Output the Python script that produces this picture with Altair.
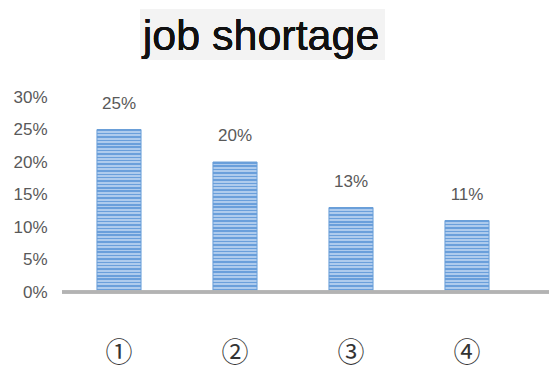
import altair as alt
import pandas as pd

categories = ["①", "②", "③", "④"]
values = [0.25, 0.20, 0.13, 0.11]
labels = ["25%", "20%", "13%", "11%"]
y_ticks = [0, 0.05, 0.10, 0.15, 0.20, 0.25, 0.30]

df = pd.DataFrame({"cat": categories, "val": values, "lab": labels})

NARROW = "Liberation Sans Narrow, Arial Narrow, Liberation Sans"

x = alt.X("cat:N", sort=categories, title=None,
          scale=alt.Scale(paddingInner=0.62, paddingOuter=0.31),
          axis=alt.Axis(labelAngle=0, domain=False, ticks=False, labelPadding=48,
                        labelFontSize=27, labelColor="#333333", labelFont="Noto Sans CJK JP"))
y = alt.Y("val:Q", title=None,
          scale=alt.Scale(domain=[0, 0.30], nice=False),
          axis=alt.Axis(values=y_ticks, format=".0%", domain=False, ticks=False, grid=False,
                        labelOverlap=False, labelPadding=14, labelFontSize=17,
                        labelColor="#595959", labelFont=NARROW))

title_bg = alt.Chart(df).mark_rect(color="#f3f3f3", clip=False).encode(
    x=alt.value(79), x2=alt.value(324), y=alt.value(-88), y2=alt.value(-37))

title_txt = alt.Chart(df).mark_text(text="job shortage", font="Liberation Sans", fontSize=43,
                                     color="#111111", align="center", baseline="alphabetic",
                                     clip=False).encode(
    x=alt.value(200), y=alt.value(-47))


def striped(n):
    stops = []
    for i in range(n):
        stops.append(alt.GradientStop(offset=i / n, color="#6a9fdb"))
        stops.append(alt.GradientStop(offset=(i + 0.45) / n, color="#6a9fdb"))
        stops.append(alt.GradientStop(offset=(i + 0.45) / n, color="#aecbed"))
        stops.append(alt.GradientStop(offset=(i + 1) / n, color="#aecbed"))
    return alt.Gradient(gradient="linear", stops=stops, x1=0, x2=0, y1=0, y2=1)


bar_layers = []
for c, v in zip(categories, values):
    n = max(1, round(v / 0.30 * 195 / 3.4))
    bar_layers.append(
        alt.Chart(df).transform_filter(alt.datum.cat == c)
        .mark_bar(color=striped(n), stroke="#6a9fd8", strokeWidth=1)
        .encode(x=x, y=y)
    )

text = alt.Chart(df).mark_text(dy=-17, fontSize=17, color="#595959", font=NARROW,
                               baseline="bottom").encode(
    x=x, y=y, text="lab:N")

baseline = alt.Chart(df).mark_rule(color="#b3b3b3", strokeWidth=3, clip=False).encode(
    x=alt.value(1), x2=alt.value(488), y=alt.value(195))

chart = alt.layer(title_bg, title_txt, *bar_layers, text, baseline).properties(
    width=464, height=195,
    autosize=alt.AutoSizeParams(type="none"),
    padding={"left": 53, "top": 89, "right": 24, "bottom": 77},
).configure(background="white").configure_view(strokeWidth=0, stroke="transparent")

chart.save("out.html", embed_options={"renderer": "svg", "actions": False})
